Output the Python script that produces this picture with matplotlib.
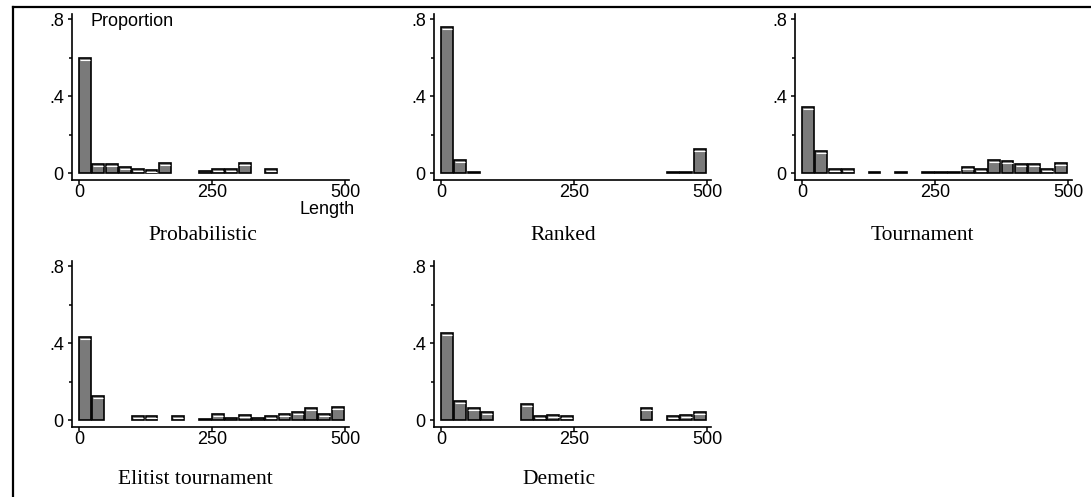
"""
Histograms of solution length by selection method (5 panels).
"""
import matplotlib
matplotlib.use('Agg')
import matplotlib.pyplot as plt
from matplotlib.lines import Line2D
from matplotlib.transforms import offset_copy

# bin starts (width 25) and proportions
bin_starts = [0, 25, 50, 75, 100, 125, 150, 175, 200, 225,
              250, 275, 300, 325, 350, 375, 400, 425, 450, 475]

probabilistic = [0.60, 0.046, 0.046, 0.032, 0.023, 0.014, 0.054, 0, 0, 0.010,
                 0.023, 0.023, 0.054, 0, 0.023, 0, 0, 0, 0, 0]
ranked = [0.76, 0.070, 0.003, 0, 0, 0, 0, 0, 0, 0,
          0, 0, 0, 0, 0, 0, 0, 0.003, 0.003, 0.123]
tournament = [0.342, 0.114, 0.023, 0.023, 0, 0.004, 0, 0.004, 0, 0.006,
              0.006, 0.004, 0.032, 0.023, 0.070, 0.063, 0.049, 0.049, 0.023, 0.054]
elitist = [0.43, 0.127, 0, 0, 0.019, 0.019, 0, 0.019, 0, 0.005,
           0.033, 0.010, 0.028, 0.010, 0.019, 0.033, 0.043, 0.063, 0.031, 0.070]
demetic = [0.454, 0.100, 0.063, 0.043, 0, 0, 0.085, 0.019, 0.028, 0.019,
           0, 0, 0, 0, 0, 0.063, 0, 0.019, 0.028, 0.043]

titles = ['Probabilistic', 'Ranked', 'Tournament', 'Elitist tournament', 'Demetic']
series = [probabilistic, ranked, tournament, elitist, demetic]

W, H = 1091, 497
fig = plt.figure(figsize=(W / 100, H / 100), dpi=100)

SANS = 'Liberation Sans'
SERIF = 'Liberation Serif'

XLIM = (-13, 507)
YLIM = (-0.035, 0.83)
PX_X = 0.532   # px per length unit
PX_Y = 192.0   # px per proportion unit
BAR_W = 22.5

# pixel position of data origin (x of 0, y of 0) for each panel
origins = [(79, 173), (441, 173), (802, 173), (79, 420), (441, 420)]
title_pos = [(203, 236), (563, 236), (922, 236), (195, 480), (559, 480)]

for i in range(5):
    x0, y0 = origins[i]
    left = x0 + XLIM[0] * PX_X
    width = (XLIM[1] - XLIM[0]) * PX_X
    bottom = y0 - YLIM[0] * PX_Y
    height = (YLIM[1] - YLIM[0]) * PX_Y
    ax = fig.add_axes([left / W, 1 - bottom / H, width / W, height / H])

    xs = [b for b, v in zip(bin_starts, series[i]) if v > 0]
    hs = [v for v in series[i] if v > 0]
    ax.bar(xs, hs, width=BAR_W, align='edge', color='#7a7a7a',
           edgecolor='black', linewidth=1.2)

    # thin white highlight just inside the top edge of each bar (Stata look)
    hl = offset_copy(ax.transData, fig=fig, y=-2, units='dots')
    hx = [b for b, v in zip(xs, hs) if v > 0.012]
    hh = [v for v in hs if v > 0.012]
    ax.hlines(hh, [b + 1.5 for b in hx], [b + BAR_W - 1.5 for b in hx],
              colors='white', linewidth=0.8, transform=hl)

    ax.set_xlim(XLIM)
    ax.set_ylim(YLIM)
    ax.set_xticks([0, 250, 500])
    ax.set_xticklabels(['0', '250', '500'], fontfamily=SANS, fontsize=13)
    ax.set_yticks([0, 0.4, 0.8])
    ax.set_yticklabels(['0', '.4', '.8'], fontfamily=SANS, fontsize=13)
    ax.set_yticks([0.2, 0.6], minor=True)
    ax.tick_params(axis='x', which='major', length=3, width=1.1, pad=0)
    ax.tick_params(axis='y', which='major', length=3, width=1.1, pad=3)
    ax.tick_params(axis='y', which='minor', length=2.5, width=1.1)
    for s in ['top', 'right']:
        ax.spines[s].set_visible(False)
    for s in ['left', 'bottom']:
        ax.spines[s].set_linewidth(1.2)

    tx, ty = title_pos[i]
    fig.text(tx / W, 1 - ty / H, titles[i], ha='center', va='center',
             fontfamily=SERIF, fontsize=15.5)

fig.text(91 / W, 1 - 21 / H, 'Proportion', ha='left', va='center',
         fontfamily=SANS, fontsize=13)
fig.text(355 / W, 1 - 209 / H, 'Length', ha='right', va='center',
         fontfamily=SANS, fontsize=13)

# outer frame: top and left edges
fig.add_artist(Line2D([13 / W, 1.0], [1 - 7 / H, 1 - 7 / H], color='black', lw=1.6))
fig.add_artist(Line2D([13 / W, 13 / W], [1 - 7 / H, 0.0], color='black', lw=1.6))

fig.savefig('out.png', dpi=100)
